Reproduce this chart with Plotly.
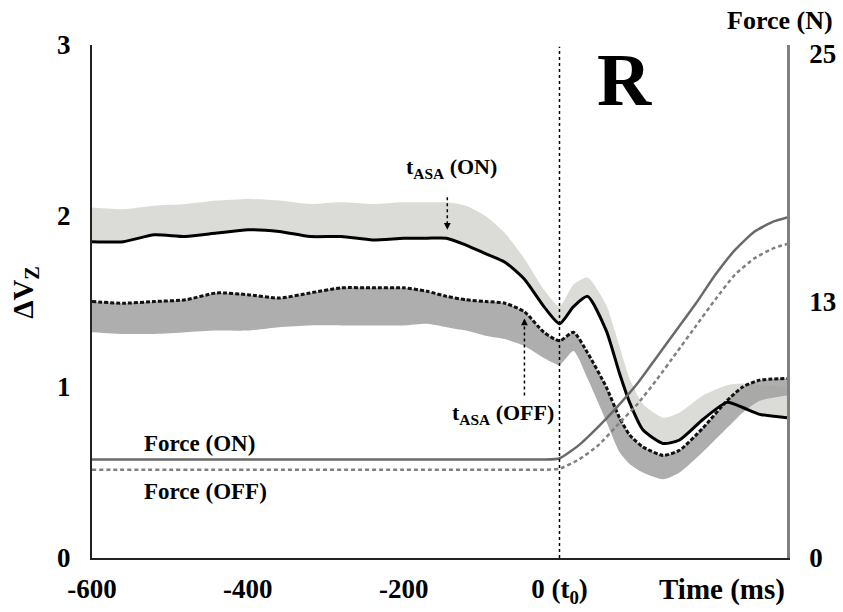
import plotly.graph_objects as go

# ---- data ----
t_v = [-600, -560, -520, -480, -440, -400, -360, -320, -280, -240, -200, -170, -145,
       -120, -95, -70, -45, -20, 0, 18, 36, 60, 77, 90, 107, 133, 154, 184, 215, 235,
       257, 292]
dv_on = [1.85, 1.85, 1.89, 1.88, 1.90, 1.92, 1.91, 1.88, 1.88, 1.86, 1.87, 1.87, 1.87,
         1.83, 1.78, 1.73, 1.63, 1.47, 1.37, 1.47, 1.53, 1.33, 1.08, 0.91, 0.75, 0.67,
         0.69, 0.81, 0.91, 0.88, 0.84, 0.82]
dv_on_upper = [2.05, 2.04, 2.06, 2.07, 2.09, 2.10, 2.09, 2.07, 2.08, 2.07, 2.08, 2.08,
               2.08, 2.06, 2.00, 1.90, 1.75, 1.57, 1.47, 1.60, 1.64, 1.48, 1.24, 1.05,
               0.90, 0.82, 0.85, 0.95, 1.01, 1.02, 1.01, 1.00]
dv_off = [1.50, 1.49, 1.50, 1.51, 1.55, 1.54, 1.52, 1.55, 1.58, 1.58, 1.58, 1.56, 1.53,
          1.51, 1.50, 1.49, 1.44, 1.32, 1.27, 1.32, 1.20, 1.00, 0.82, 0.72, 0.65, 0.60,
          0.63, 0.76, 0.92, 1.00, 1.04, 1.05]
dv_off_lower = [1.32, 1.31, 1.31, 1.32, 1.33, 1.33, 1.35, 1.36, 1.36, 1.36, 1.36, 1.37,
                1.35, 1.33, 1.30, 1.28, 1.24, 1.17, 1.13, 1.21, 1.05, 0.80, 0.62, 0.55,
                0.50, 0.46, 0.50, 0.62, 0.76, 0.85, 0.92, 0.95]

t_f = [-600, -400, -200, -60, -20, 0, 25, 50, 75, 100, 125, 150, 175, 200, 225, 250, 275, 292]
force_on = [4.8, 4.8, 4.8, 4.8, 4.8, 4.85, 5.5, 6.4, 7.4, 8.5, 9.8, 11.1, 12.4, 13.8, 15.0, 15.9, 16.4, 16.6]
force_off = [4.3, 4.3, 4.3, 4.3, 4.3, 4.35, 4.8, 5.5, 6.5, 7.5, 8.7, 10.0, 11.3, 12.6, 13.8, 14.6, 15.1, 15.3]

x_ticks = [-600, -400, -200, 0]
x_ticktext = ["-600", "-400", "-200", "0 (t<sub>0</sub>)"]
y_ticks = [0, 1, 2, 3]
y2_ticks = [0, 12.5, 24.6]
y2_ticktext = ["0", "13", "25"]

t_asa_on = -144
t_asa_off = -45

FONT = "Liberation Serif"

fig = go.Figure()

# ON band (above the ON mean)
fig.add_trace(go.Scatter(x=t_v, y=dv_on, mode="lines", line=dict(width=0, shape="spline", smoothing=0.6),
                         hoverinfo="skip", showlegend=False))
fig.add_trace(go.Scatter(x=t_v, y=dv_on_upper, mode="lines", fill="tonexty",
                         fillcolor="#dbdbd7",
                         line=dict(width=0, shape="spline", smoothing=0.6), hoverinfo="skip", showlegend=False))
# OFF band (below the OFF mean)
fig.add_trace(go.Scatter(x=t_v, y=dv_off, mode="lines", line=dict(width=0, shape="spline", smoothing=0.6),
                         hoverinfo="skip", showlegend=False))
fig.add_trace(go.Scatter(x=t_v, y=dv_off_lower, mode="lines", fill="tonexty",
                         fillcolor="rgba(160,160,160,0.85)",
                         line=dict(width=0, shape="spline", smoothing=0.6), hoverinfo="skip", showlegend=False))

# Force lines (right axis)
fig.add_trace(go.Scatter(x=t_f, y=force_on, yaxis="y2", mode="lines",
                         line=dict(color="#6a6a6a", width=2.5, shape="spline", smoothing=0.5),
                         showlegend=False))
fig.add_trace(go.Scatter(x=t_f, y=force_off, yaxis="y2", mode="lines",
                         line=dict(color="#808080", width=2.5, dash="4px,3px", shape="spline", smoothing=0.5),
                         showlegend=False))

# Delta Vz mean lines
fig.add_trace(go.Scatter(x=t_v, y=dv_off, mode="lines",
                         line=dict(color="#111111", width=3, dash="4px,2px", shape="spline", smoothing=0.6),
                         showlegend=False))
fig.add_trace(go.Scatter(x=t_v, y=dv_on, mode="lines",
                         line=dict(color="#000000", width=3, shape="spline", smoothing=0.6),
                         showlegend=False))

shapes = [
    dict(type="line", xref="x", yref="y", x0=0, x1=0, y0=0, y1=2.99,
         line=dict(color="black", width=1.5, dash="dot")),
    dict(type="line", xref="x", yref="y", x0=t_asa_on, x1=t_asa_on, y0=2.11, y1=1.95,
         line=dict(color="black", width=1.5, dash="dot")),
    dict(type="line", xref="x", yref="y", x0=t_asa_off, x1=t_asa_off, y0=0.95, y1=1.37,
         line=dict(color="black", width=1.5, dash="dot")),
]

ann_font = dict(family=FONT, size=22, color="black", weight="bold")
force_font = dict(family=FONT, size=23, color="black", weight="bold")
annotations = [
    dict(x=t_asa_on, y=1.92, ax=0, ay=-8, xref="x", yref="y",
         text="", showarrow=True, arrowhead=2, arrowsize=0.9, arrowwidth=1.5, arrowcolor="black"),
    dict(x=t_asa_off, y=1.40, ax=0, ay=8, xref="x", yref="y",
         text="", showarrow=True, arrowhead=2, arrowsize=0.9, arrowwidth=1.5, arrowcolor="black"),
    dict(x=-139, y=2.28, xref="x", yref="y", text="t<sub>ASA</sub> (ON)", showarrow=False,
         font=ann_font, xanchor="center", yanchor="middle"),
    dict(x=-73, y=0.84, xref="x", yref="y", text="t<sub>ASA</sub> (OFF)", showarrow=False,
         font=ann_font, xanchor="center", yanchor="middle"),
    dict(x=-462, y=0.67, xref="x", yref="y", text="Force (ON)", showarrow=False,
         font=force_font, xanchor="center", yanchor="middle"),
    dict(x=-454, y=0.386, xref="x", yref="y", text="Force (OFF)", showarrow=False,
         font=force_font, xanchor="center", yanchor="middle"),
    dict(x=84, y=2.80, xref="x", yref="y", text="R", showarrow=False, xanchor="center", yanchor="middle",
         font=dict(family=FONT, size=75, color="black", weight="bold")),
    dict(x=208, y=-0.062, xref="x", yref="paper", text="Time (ms)", showarrow=False,
         xanchor="center", yanchor="middle",
         font=dict(family=FONT, size=29, color="black", weight="bold")),
    dict(x=0.99, y=1.047, xref="paper", yref="paper", text="Force (N)", showarrow=False,
         xanchor="center", yanchor="middle",
         font=dict(family=FONT, size=26, color="black", weight="bold")),
    dict(x=-0.0964, y=0.517, xref="paper", yref="paper", text="ΔV<sub>Z</sub>", textangle=-90,
         xanchor="center", yanchor="middle",
         showarrow=False, font=dict(family=FONT, size=29, color="black", weight="bold")),
]

tick_font = dict(family=FONT, size=27, color="black", weight="bold")

fig.update_layout(
    width=843, height=612,
    margin=dict(l=92, r=56, t=45, b=54, autoexpand=False),
    paper_bgcolor="white", plot_bgcolor="white",
    showlegend=False,
    shapes=shapes, annotations=annotations,
    xaxis=dict(range=[-600, 292], tickvals=x_ticks, ticktext=x_ticktext, showgrid=False,
               zeroline=False, showline=True, linecolor="#222222", linewidth=2,
               ticks="", tickfont=tick_font, ticklabelstandoff=6, automargin=False),
    yaxis=dict(range=[0, 3], tickvals=y_ticks, showgrid=False, zeroline=False,
               showline=True, linecolor="#222222", linewidth=2, ticks="",
               tickfont=tick_font, ticklabelstandoff=14, automargin=False),
    yaxis2=dict(range=[0, 25], tickvals=y2_ticks, ticktext=y2_ticktext, overlaying="y",
                side="right", showgrid=False, zeroline=False, showline=True,
                linecolor="#808080", linewidth=2.5, ticks="", tickfont=tick_font,
                ticklabelstandoff=14, automargin=False),
)

fig.write_html("out.html", config={"displayModeBar": False},
               post_script="document.body.style.margin='0px';document.body.style.overflow='hidden';")
